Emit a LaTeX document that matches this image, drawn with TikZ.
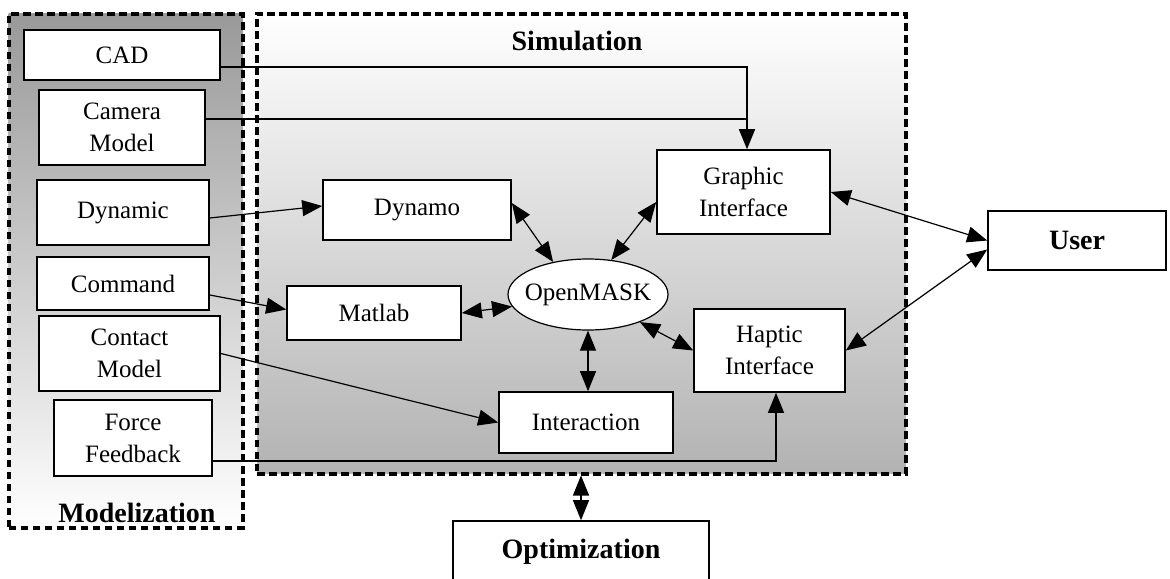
\documentclass[tikz,border=0pt]{standalone}
\usepackage{fontspec}
\setmainfont{Liberation Serif}
\usepackage{tikz}
\usetikzlibrary{
    arrows.meta,
    shapes.geometric
}
\tikzset{
    box/.style={draw, line width=0.8pt, fill=white, align=center, inner sep=1pt,
        font=\fontsize{12.5}{16}\selectfont},      % plain block
    bigbox/.style={box, font=\fontsize{14}{16}\selectfont\bfseries},
    zone/.style={draw, line width=2pt, dash pattern=on 3.8pt off 2.2pt, inner sep=0pt},
    title/.style={font=\fontsize{14}{16}\selectfont\bfseries},
    conn/.style={line width=0.6pt, -{Triangle[length=10pt,width=8pt]}},
    dconn/.style={line width=0.6pt, {Triangle[length=10pt,width=8pt]}-{Triangle[length=10pt,width=8pt]}},
}
\begin{document}
\begin{tikzpicture}[x=0.5pt, y=-0.5pt]
    \useasboundingbox (0,0) rectangle (1170,578);
    % the two zones
    \node[zone, top color=black!40, bottom color=white, minimum width=117pt, minimum height=257pt] (model) at (125.5,270.75) {};
    \node[zone, top color=white, bottom color=black!30, minimum width=324.5pt, minimum height=230pt] (sim) at (581.5,243.5) {};
    \node[title] (modeltitle) at (137,513) {Modelization};
    \node[title] (simtitle) at (577,41) {Simulation};
    % modelization blocks
    \node[box, minimum width=98pt, minimum height=25pt] (cad) at (122,55) {CAD};
    \node[box, minimum width=83pt, minimum height=37.5pt] (camera) at (122,127.5) {Camera\\Model};
    \node[box, minimum width=86pt, minimum height=32.5pt] (dynamic) at (123,212.5) {Dynamic};
    \node[box, minimum width=86pt, minimum height=26.5pt] (command) at (123,283.5) {Command};
    \node[box, minimum width=90.5pt, minimum height=37.5pt] (contact) at (129.5,353.5) {Contact\\Model};
    \node[box, minimum width=79pt, minimum height=38pt] (force) at (133,438) {Force\\Feedback};
    % simulation blocks
    \node[box, minimum width=94pt, minimum height=30pt] (dynamo) at (417,210) {Dynamo};
    \node[box, minimum width=86.5pt, minimum height=42pt] (graphic) at (743.5,192) {Graphic\\Interface};
    \node[box, ellipse, line width=0.6pt, inner xsep=-4pt, inner ysep=0pt, minimum width=80pt, minimum height=35.5pt] (openmask) at (588,294.5) {OpenMASK};
    \node[box, minimum width=87pt, minimum height=27pt] (matlab) at (374,313) {Matlab};
    \node[box, minimum width=87pt, minimum height=30.5pt] (interaction) at (586,422.5) {Interaction};
    \node[box, minimum width=75.5pt, minimum height=41.5pt] (haptic) at (769.5,350.5) {Haptic\\Interface};
    % outside
    \node[bigbox, minimum width=89pt, minimum height=29.5pt] (user) at (1077,240.5) {User};
    \node[bigbox, anchor=base, minimum width=128pt, inner ysep=0pt, text height=18.5pt, text depth=16pt] (optim) at (581,558) {Optimization};

    \coordinate (gtop) at ([xshift=1.75pt]graphic.north);
    \coordinate (hbot) at ([xshift=3.25pt]haptic.south);
    \draw[conn, line width=0.8pt] ([yshift=-6pt]cad.east) -| (gtop);
    \draw[line width=0.8pt] ([yshift=4.25pt]camera.east) coordinate (cm) -- (cm -| gtop);
    \draw[conn] ([yshift=-2.75pt]dynamic.east) -- ([yshift=2pt]dynamo.west);
    \draw[conn] ([yshift=-5.75pt]command.east) -- ([yshift=1.75pt]matlab.west);
    \draw[conn] (contact.east) -- (interaction.west);
    \draw[conn] ([yshift=-11.5pt]force.east) -| (hbot);
    \draw[dconn] ([yshift=3.5pt]dynamo.east) -- (openmask.137);
    \draw[dconn] ([yshift=-5pt]graphic.west) -- (openmask.56);
    \draw[dconn] (matlab.east) -- (openmask.189);
    \draw[dconn] (openmask.south) -- (openmask.south |- interaction.north);
    \draw[dconn] (openmask.-28) -- (haptic.west);
    \draw[dconn] (graphic.east) -- (user.west);
    \draw[dconn] (haptic.east) -- ([yshift=-4.5pt]user.west);
    \draw[dconn] (sim.south -| optim.north) -- (optim.north);
\end{tikzpicture}
\end{document}
